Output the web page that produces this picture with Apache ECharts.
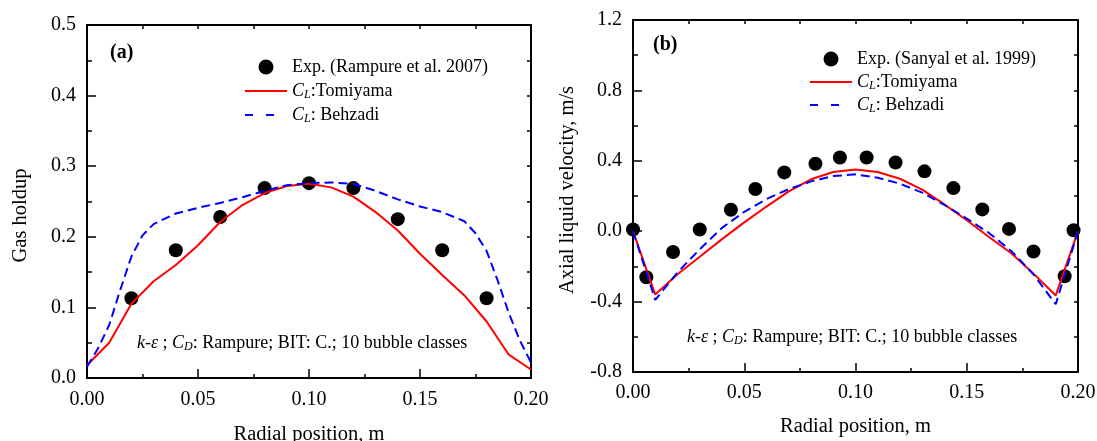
<!DOCTYPE html>
<html>
<head>
<meta charset="utf-8">
<script src="https://cdn.jsdelivr.net/npm/echarts@6/dist/echarts.min.js"></script>
<style>
  html, body { margin: 0; padding: 0; background: #fff; }
  #chart { width: 1097px; height: 441px; }
</style>
</head>
<body>
<div id="chart"></div>
<script>
// ---------- Panel (a): gas holdup ----------
const expAx = [0.02, 0.04, 0.06, 0.08, 0.10, 0.12, 0.14, 0.16, 0.18];
const expA  = [0.113, 0.181, 0.228, 0.269, 0.276, 0.269, 0.225, 0.181, 0.113];

const tomiAx = [0, 0.01, 0.02, 0.03, 0.04, 0.05, 0.06, 0.07, 0.08, 0.09, 0.10,
                0.11, 0.12, 0.13, 0.14, 0.15, 0.16, 0.17, 0.18, 0.19, 0.20];
const tomiA  = [0.018, 0.050, 0.105, 0.137, 0.160, 0.188, 0.221, 0.245, 0.262, 0.272, 0.275,
                0.270, 0.257, 0.235, 0.209, 0.176, 0.146, 0.117, 0.080, 0.033, 0.012];

const behzAx = [0, 0.005, 0.01, 0.015, 0.02, 0.025, 0.03, 0.04, 0.05, 0.06, 0.07, 0.08, 0.09, 0.10,
                0.11, 0.12, 0.13, 0.14, 0.15, 0.16, 0.17, 0.175, 0.18, 0.185, 0.19, 0.195, 0.20];
const behzA  = [0.016, 0.042, 0.075, 0.125, 0.172, 0.202, 0.218, 0.233, 0.241, 0.248, 0.256, 0.265, 0.273, 0.276,
                0.277, 0.275, 0.265, 0.253, 0.243, 0.235, 0.222, 0.205, 0.180, 0.138, 0.092, 0.053, 0.022];

// ---------- Panel (b): axial liquid velocity ----------
const expBx = [0, 0.006, 0.018, 0.030, 0.044, 0.055, 0.068, 0.082, 0.093,
               0.105, 0.118, 0.131, 0.144, 0.157, 0.169, 0.180, 0.194, 0.198];
const expB  = [0.010, -0.262, -0.118, 0.010, 0.122, 0.240, 0.334, 0.383, 0.419,
               0.419, 0.390, 0.340, 0.245, 0.124, 0.013, -0.115, -0.256, 0.005];

const radialB = [0, 0.01, 0.02, 0.03, 0.04, 0.05, 0.06, 0.07, 0.08, 0.09, 0.10,
                 0.11, 0.12, 0.13, 0.14, 0.15, 0.16, 0.17, 0.18, 0.19, 0.20];
const tomiB = [0.0, -0.360, -0.245, -0.145, -0.045, 0.050, 0.140, 0.226, 0.295, 0.336, 0.351,
               0.336, 0.298, 0.236, 0.152, 0.062, -0.033, -0.125, -0.241, -0.365, 0.0];
const behzB = [0.0, -0.390, -0.234, -0.103, 0.019, 0.110, 0.183, 0.239, 0.283, 0.313, 0.323,
               0.304, 0.270, 0.219, 0.149, 0.072, -0.010, -0.112, -0.245, -0.415, 0.0];

// ---------- tick labels ----------
const xTicks  = [0, 0.05, 0.10, 0.15, 0.20];
const yTicksA = [0, 0.1, 0.2, 0.3, 0.4, 0.5];
const yTicksB = [-0.8, -0.4, 0, 0.4, 0.8, 1.2];

// ---------- names ----------
const EXP_A = 'Exp. (Rampure et al. 2007)';
const EXP_B = 'Exp. (Sanyal et al. 1999)';
const TOMI = 'CL:Tomiyama';
const BEHZ = 'CL: Behzadi';

const SERIF = '"Liberation Serif", "Times New Roman", serif';
const RED = '#ff0000';
const BLUE = '#0000ff';

const zip = (xs, ys) => xs.map((x, i) => [x, ys[i]]);
const fmt = d => v => (Math.abs(v) < 1e-9 ? 0 : v).toFixed(d);

// rich styles for italic symbols with subscripts
const richLegend = {
  n: { fontFamily: SERIF, fontSize: 18, lineHeight: 20, color: '#000' },
  i: { fontFamily: SERIF, fontSize: 18, fontStyle: 'italic', lineHeight: 20, color: '#000' },
  s: { fontFamily: SERIF, fontSize: 12, fontStyle: 'italic', lineHeight: 13, verticalAlign: 'bottom', color: '#000' }
};
const legendLabel = name => {
  if (name === TOMI) return '{i|C}{s|L}{n|:Tomiyama}';
  if (name === BEHZ) return '{i|C}{s|L}{n|: Behzadi}';
  return '{n|' + name + '}';
};

const LINE_ICON = 'path://M0,0H42V2H0Z';
const DASH_ICON = 'path://M0,0H8V2H0ZM21,0H29V2H21ZM42,0L42,2L42,0Z';

function mainX(grid, nameGap, labelMargin) {
  return {
    gridIndex: grid, type: 'value', position: 'bottom',
    min: xTicks[0], max: xTicks[xTicks.length - 1], interval: 0.05,
    name: 'Radial position, m', nameLocation: 'middle', nameGap: nameGap,
    nameTextStyle: { fontFamily: SERIF, fontSize: 20.5, color: '#000' },
    axisLine: { onZero: false, lineStyle: { color: '#000', width: 2 } },
    axisTick: { inside: true, length: 9, lineStyle: { color: '#000', width: 1.5 } },
    minorTick: { show: true, splitNumber: 2, length: 4, lineStyle: { color: '#000', width: 1.5 } },
    axisLabel: { margin: labelMargin, fontFamily: SERIF, fontSize: 20, color: '#000', formatter: fmt(2) },
    splitLine: { show: false }
  };
}
function mirrorX(grid) {
  return {
    gridIndex: grid, type: 'value', position: 'top',
    min: xTicks[0], max: xTicks[xTicks.length - 1], interval: 0.025,
    axisLine: { onZero: false, lineStyle: { color: '#000', width: 2 } },
    axisTick: { inside: true, length: 4, lineStyle: { color: '#000', width: 1.5 } },
    axisLabel: { show: false }, splitLine: { show: false }
  };
}
function mainY(grid, ticks, interval, name, nameGap, pad, digits) {
  return {
    gridIndex: grid, type: 'value', position: 'left',
    min: ticks[0], max: ticks[ticks.length - 1], interval: interval,
    name: name, nameLocation: 'middle', nameGap: nameGap,
    nameTextStyle: { fontFamily: SERIF, fontSize: 20.5, color: '#000', padding: pad },
    axisLine: { onZero: false, lineStyle: { color: '#000', width: 2 } },
    axisTick: { inside: true, length: 9, lineStyle: { color: '#000', width: 1.5 } },
    minorTick: { show: true, splitNumber: 2, length: 5, lineStyle: { color: '#000', width: 1.5 } },
    axisLabel: { margin: 11, fontFamily: SERIF, fontSize: 20, color: '#000', formatter: fmt(digits) },
    splitLine: { show: false }
  };
}
function mirrorY(grid, ticks, interval) {
  return {
    gridIndex: grid, type: 'value', position: 'right',
    min: ticks[0], max: ticks[ticks.length - 1], interval: interval,
    axisLine: { onZero: false, lineStyle: { color: '#000', width: 2 } },
    axisTick: { inside: true, length: 4, lineStyle: { color: '#000', width: 1.5 } },
    axisLabel: { show: false }, splitLine: { show: false }
  };
}

function panelSeries(xi, yi, expName, ex, ey, tx, ty, bx, by) {
  return [
    { type: 'scatter', name: expName, xAxisIndex: xi, yAxisIndex: yi, z: 2,
      data: zip(ex, ey), symbol: 'circle', symbolSize: 14,
      itemStyle: { color: '#000', opacity: 1 } },
    { type: 'line', name: TOMI, xAxisIndex: xi, yAxisIndex: yi, z: 3,
      data: zip(tx, ty), symbol: 'none',
      itemStyle: { color: RED }, lineStyle: { color: RED, width: 2 } },
    { type: 'line', name: BEHZ, xAxisIndex: xi, yAxisIndex: yi, z: 4,
      data: zip(bx, by), symbol: 'none',
      itemStyle: { color: BLUE }, lineStyle: { color: BLUE, width: 2, type: [9, 5] } }
  ];
}

function legendFor(expName, left, top, gap) {
  return {
    orient: 'vertical', left: left, top: top, padding: 0,
    itemWidth: 42, itemHeight: 15, itemGap: gap,
    selectedMode: false,
    itemStyle: { borderWidth: 0 },
    data: [
      { name: expName, icon: 'circle', itemStyle: { opacity: 1 } },
      { name: TOMI, icon: LINE_ICON },
      { name: BEHZ, icon: DASH_ICON }
    ],
    formatter: legendLabel,
    textStyle: { fontFamily: SERIF, fontSize: 18, lineHeight: 20, color: '#000', rich: richLegend }
  };
}

const richNote = {
  i: { fontFamily: SERIF, fontSize: 18, fontStyle: 'italic', lineHeight: 20, fill: '#000' },
  s: { fontFamily: SERIF, fontSize: 12, fontStyle: 'italic', lineHeight: 13, verticalAlign: 'bottom', fill: '#000' }
};
const NOTE = '{i|k-\u03b5} ; {i|C}{s|D}: Rampure; BIT: C.; 10 bubble classes';

function noteText(x, y) {
  return {
    type: 'text', x: x, y: y, silent: true,
    style: { text: NOTE, rich: richNote, fontFamily: SERIF, fontSize: 18, fill: '#000',
             align: 'left', verticalAlign: 'middle', lineHeight: 20 }
  };
}
function tagText(label, x, y) {
  return {
    type: 'text', x: x, y: y, silent: true,
    style: { text: label, fontFamily: SERIF, fontSize: 20, fontWeight: 'bold', fill: '#000',
             align: 'left', verticalAlign: 'middle' }
  };
}

const chart = echarts.init(document.getElementById('chart'), null, { renderer: 'canvas' });
chart.setOption({
  animation: false,
  backgroundColor: '#fff',
  grid: [
    { left: 87, right: 566, top: 25, bottom: 63, outerBoundsMode: 'none', containLabel: false },
    { left: 633, right: 19, top: 20, bottom: 69, outerBoundsMode: 'none', containLabel: false }
  ],
  xAxis: [mainX(0, 46, 12), mirrorX(0), mainX(1, 44, 11), mirrorX(1)],
  yAxis: [
    mainY(0, yTicksA, 0.1, 'Gas holdup', 56, [0, 28, 0, 0], 1),
    mirrorY(0, yTicksA, 0.05),
    mainY(1, yTicksB, 0.4, 'Axial liquid velocity, m/s', 55, [0, 0, 0, 12], 1),
    mirrorY(1, yTicksB, 0.2)
  ],
  legend: [
    legendFor(EXP_A, 245, 57, 4),
    legendFor(EXP_B, 810, 49, 3)
  ],
  series: [
    ...panelSeries(0, 0, EXP_A, expAx, expA, tomiAx, tomiA, behzAx, behzA),
    ...panelSeries(2, 2, EXP_B, expBx, expB, radialB, tomiB, radialB, behzB)
  ],
  graphic: [
    tagText('(a)', 110, 53),
    tagText('(b)', 653, 45),
    noteText(137, 343),
    noteText(687, 337)
  ]
});
</script>
</body>
</html>
